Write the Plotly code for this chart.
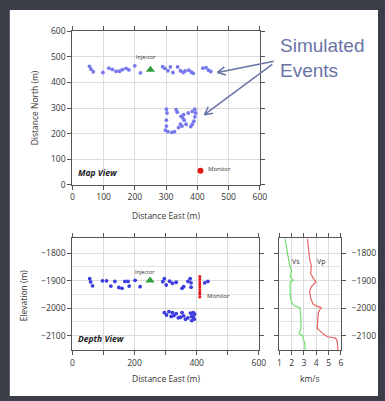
import plotly.graph_objects as go

# ---------------- data ----------------
map_x_upper = [55, 60, 67, 98, 117, 128, 140, 151, 160, 172, 181, 200, 218, 289, 296, 306, 314, 322, 337, 346, 355, 361, 373, 381, 387, 418, 428, 436, 443]
map_y_upper = [463, 452, 442, 439, 456, 451, 444, 444, 450, 455, 449, 465, 438, 462, 455, 446, 461, 439, 461, 446, 439, 445, 448, 440, 436, 456, 458, 448, 443]
map_x_lower = [301, 303, 301, 301, 298, 306, 319, 327, 332, 336, 340, 346, 348, 353, 356, 358, 351, 364, 371, 384, 392, 395, 392, 389, 384, 379]
map_y_lower = [296, 281, 253, 230, 214, 208, 205, 208, 294, 284, 224, 237, 268, 262, 275, 253, 230, 237, 281, 287, 296, 281, 266, 249, 237, 228]

dep_x_upper = [56, 59, 65, 97, 110, 124, 137, 150, 160, 169, 179, 183, 202, 218, 291, 296, 302, 313, 322, 334, 353, 358, 372, 379, 382, 382, 426, 436]
dep_z_upper = [-1893, -1905, -1919, -1901, -1901, -1920, -1903, -1925, -1928, -1903, -1903, -1920, -1899, -1922, -1904, -1893, -1916, -1902, -1910, -1906, -1928, -1922, -1903, -1893, -1908, -1924, -1908, -1903]
dep_x_lower = [296, 303, 311, 318, 322, 327, 334, 341, 348, 353, 358, 364, 372, 380, 384, 389, 389, 393, 384, 392]
dep_z_lower = [-2016, -2025, -2013, -2030, -2016, -2027, -2020, -2035, -2033, -2016, -2028, -2040, -2035, -2018, -2030, -2016, -2033, -2022, -2045, -2040]

injector_xy = (250, 450)
injector_xz = (250, -1900)
monitor_xy = (410, 55)
monitor_x = [410] * 9
monitor_z = [-1885, -1894, -1904, -1913, -1922, -1932, -1941, -1950, -1960]

vs_z = [-1748, -1788, -1823, -1852, -1864, -1887, -1899, -1905, -1919, -1951, -1981, -1992, -1998, -2033, -2074, -2092, -2100, -2109, -2127, -2152]
vs_v = [1.45, 1.6, 1.74, 1.87, 2.0, 1.87, 2.14, 1.87, 1.87, 1.87, 2.0, 2.27, 2.67, 2.75, 2.75, 2.6, 2.9, 2.93, 3.06, 3.1]
vp_z = [-1748, -1788, -1823, -1846, -1875, -1898, -1905, -1922, -1940, -1963, -1984, -1992, -1998, -2016, -2039, -2074, -2086, -2095, -2104, -2109, -2121, -2152]
vp_v = [3.28, 3.38, 3.46, 3.6, 3.54, 3.86, 3.98, 3.6, 3.46, 3.54, 3.72, 4.0, 4.39, 4.17, 4.12, 4.07, 4.39, 4.6, 4.91, 5.58, 5.7, 5.76]

map_ticks = [0, 100, 200, 300, 400, 500, 600]
depth_x_ticks = [0, 100, 200, 300, 400, 500, 600]
depth_x_text = ['0', '', '200', '', '400', '', '600']
elev_ticks = [-2100, -2000, -1900, -1800]
elev_minor = [-2150, -2050, -1950, -1850, -1750]
vel_ticks = [1, 2, 3, 4, 5, 6]

# ---------------- figure ----------------
W, H = 385, 401
def px(x): return x / W
def py(y): return 1 - y / H

FONT = 'Open Sans'
TXT = '#333333'
EV_MAP = '#7878ee'
EV_DEP = '#3c3ce0'

fig = go.Figure()
fig.add_trace(go.Scatter(x=map_x_upper + map_x_lower, y=map_y_upper + map_y_lower, mode='markers',
                         marker=dict(color=EV_MAP, size=3.8), xaxis='x', yaxis='y', hoverinfo='skip'))
fig.add_trace(go.Scatter(x=[injector_xy[0]], y=[injector_xy[1]], mode='markers',
                         marker=dict(color='#2f9e3c', size=8, symbol='triangle-up'), xaxis='x', yaxis='y'))
fig.add_trace(go.Scatter(x=[monitor_xy[0]], y=[monitor_xy[1]], mode='markers',
                         marker=dict(color='#e31818', size=6), xaxis='x', yaxis='y'))

fig.add_trace(go.Scatter(x=dep_x_upper + dep_x_lower, y=dep_z_upper + dep_z_lower, mode='markers',
                         marker=dict(color=EV_DEP, size=3.8), xaxis='x2', yaxis='y2'))
fig.add_trace(go.Scatter(x=[injector_xz[0]], y=[injector_xz[1]], mode='markers',
                         marker=dict(color='#2f9e3c', size=8, symbol='triangle-up'), xaxis='x2', yaxis='y2'))
fig.add_trace(go.Scatter(x=monitor_x, y=monitor_z, mode='markers',
                         marker=dict(color='#e31818', size=3), xaxis='x2', yaxis='y2'))

fig.add_trace(go.Scatter(x=vs_v, y=vs_z, mode='lines', line=dict(color='#6ee06e', width=1.2),
                         xaxis='x3', yaxis='y3'))
fig.add_trace(go.Scatter(x=vp_v, y=vp_z, mode='lines', line=dict(color='#e86464', width=1.2),
                         xaxis='x3', yaxis='y3'))

ax = dict(showline=True, linecolor='#555555', linewidth=1.2, mirror='ticks', ticks='outside',
          ticklen=4, tickcolor='#555555', tickwidth=1, gridcolor='#dcdcdc', gridwidth=1,
          zeroline=False, tickfont=dict(family=FONT, size=8.5, color=TXT), fixedrange=True)

ybot = [py(354), py(239)]
fig.update_layout(
    width=W, height=H, autosize=False, showlegend=False,
    margin=dict(l=0, r=0, t=0, b=0, pad=0),
    paper_bgcolor='#3b3d49', plot_bgcolor='white',
    xaxis=dict(ax, domain=[px(72), px(264)], range=[0, 600], tickvals=map_ticks, anchor='y'),
    yaxis=dict(ax, domain=[py(184), py(26)], range=[0, 600], tickvals=map_ticks, anchor='x'),
    xaxis2=dict(ax, domain=[px(72), px(263)], range=[0, 600], tickvals=depth_x_ticks,
                ticktext=depth_x_text, anchor='y2'),
    yaxis2=dict(ax, domain=ybot, range=[-2153, -1747], tickvals=elev_ticks, anchor='x2',
                minor=dict(tickvals=elev_minor, showgrid=True, gridcolor='#e4e4e4', ticks='')),
    xaxis3=dict(ax, domain=[px(284), px(347)], range=[1, 6], tickvals=vel_ticks, anchor='y3'),
    yaxis3=dict(ax, domain=ybot, range=[-2153, -1747], tickvals=elev_ticks, anchor='x3',
                side='right', ticklabelstandoff=4,
                minor=dict(tickvals=elev_minor, showgrid=True, gridcolor='#e4e4e4', ticks='')),
)

# white slide panel
fig.add_shape(type='rect', xref='paper', yref='paper', x0=px(8), x1=1, y0=0, y1=py(4),
              fillcolor='white', line=dict(width=0), layer='below')

# arrows (open chevrons)
ARC = '#6a74a8'
arrows = [((278.3, 56.7), (220.7, 68.3), (229.3, 70.9), (227.7, 62.6)),
          ((276.7, 60.0), (207.3, 111.7), (216.2, 110.3), (211.2, 103.6))]
for tail, tip, w1, w2 in arrows:
    for a, b in [(tail, tip), (tip, w1), (tip, w2)]:
        fig.add_shape(type='line', xref='paper', yref='paper', x0=px(a[0]), y0=py(a[1]),
                      x1=px(b[0]), y1=py(b[1]), line=dict(color=ARC, width=1.5))

ann = []
def A(text, x, y, size=8.5, angle=0, xanchor='center', yanchor='middle', color=TXT, family=FONT,
      xref='paper', yref='paper', align='center'):
    ann.append(dict(text=text, x=x, y=y, xref=xref, yref=yref, showarrow=False, textangle=angle,
                    xanchor=xanchor, yanchor=yanchor, align=align,
                    font=dict(family=family, size=size, color=color)))

A('Distance North (m)', px(33), py(105), angle=-90)
A('Distance East (m)', px(168), py(215))
A('Elevation (m)', px(22), py(297), angle=-90)
A('Distance East (m)', px(168), py(383))
A('km/s', px(315), py(383))
A('Simulated<br>Events', px(283), py(28), size=19, xanchor='left', yanchor='top', color=ARC,
  family='Liberation Sans', align='left')

A('Injector', 237, 499, size=5.5, xref='x', yref='y')
A('Monitor', 428, 63, size=6, xanchor='left', xref='x', yref='y')
A('<b><i>Map View</i></b>', 12, 49, size=8.5, xanchor='left', xref='x', yref='y', color='#222')

A('Injector', 235, -1869, size=5.5, xref='x2', yref='y2')
A('Monitor', 428, -1956, size=6, xanchor='left', xref='x2', yref='y2')
A('<b><i>Depth View</i></b>', 12, -2112, size=8.5, xanchor='left', xref='x2', yref='y2', color='#222')

A('Vs', 2.33, -1830, size=7, xref='x3', yref='y3')
A('Vp', 4.39, -1830, size=7, xref='x3', yref='y3')

fig.update_layout(annotations=ann)
fig.write_html('out.html')
